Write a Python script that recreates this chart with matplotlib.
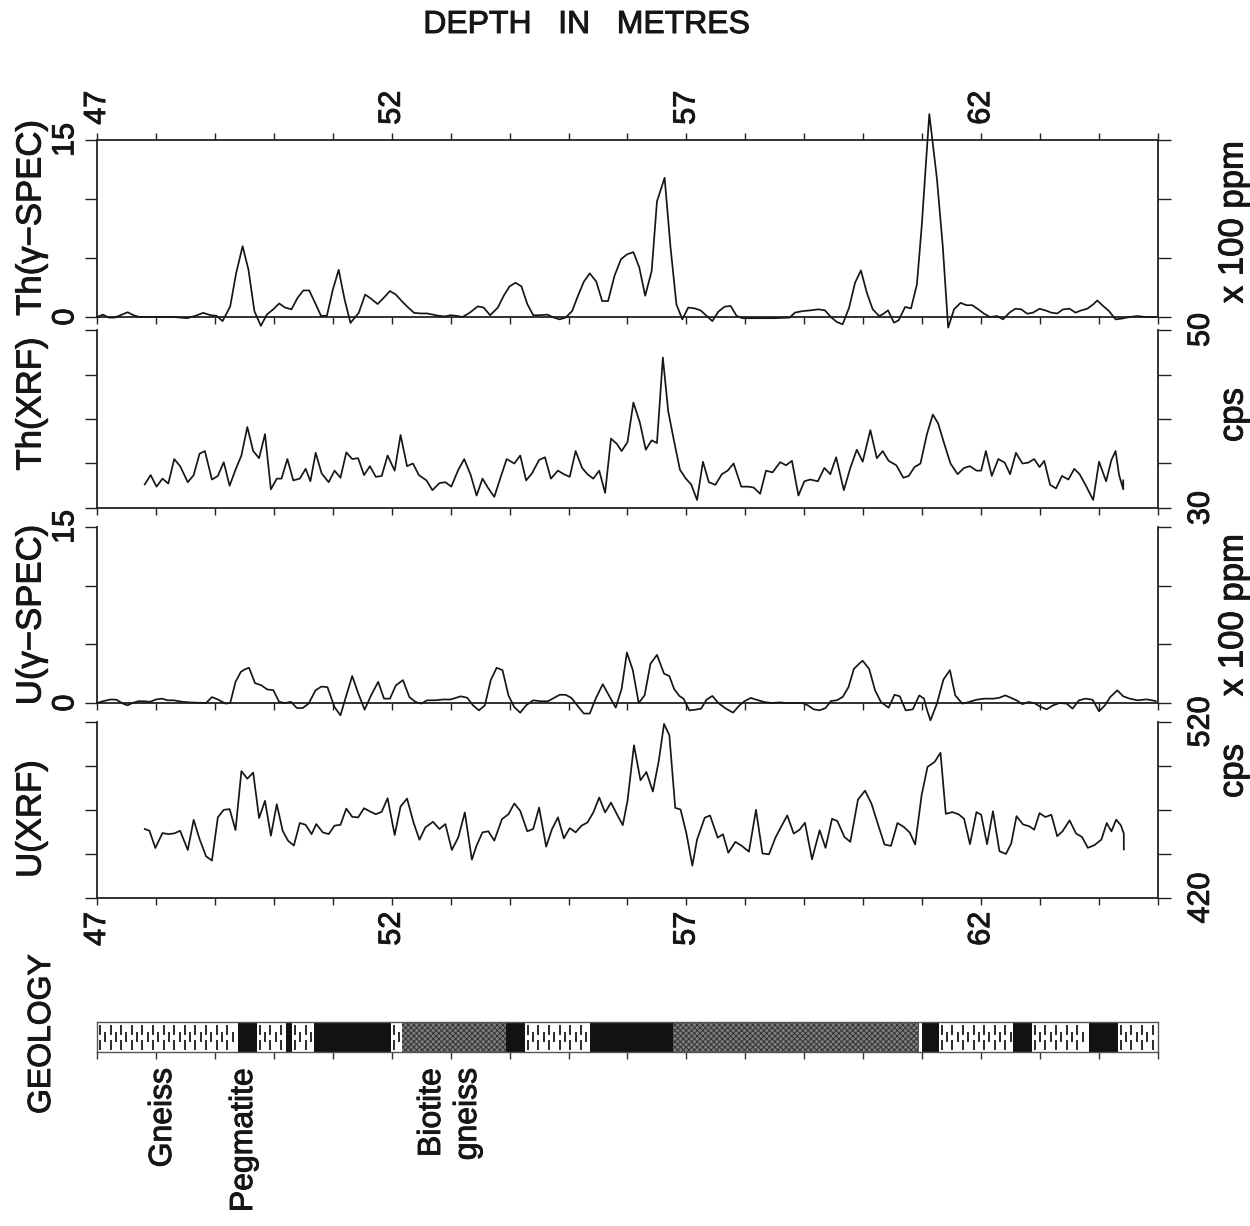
import matplotlib
matplotlib.use("Agg")
import matplotlib.pyplot as plt
import matplotlib.patheffects as pe
from matplotlib.patches import Rectangle
from matplotlib.text import Text
import numpy as np

plt.rcParams['font.family'] = ['Liberation Sans', 'DejaVu Sans']
plt.rcParams['hatch.linewidth'] = 0.7

# ---------------- data ----------------
depth_ticks = list(range(47, 66))
labeled_depths = [47, 52, 57, 62]

th_spec_depth = [47.0, 47.1, 47.2, 47.3, 47.42, 47.52, 47.62, 47.72, 48.0, 48.3, 48.53, 48.67, 48.8, 48.93,
                 49.03, 49.13, 49.26, 49.36, 49.47, 49.57, 49.67, 49.78, 49.88, 49.99, 50.09, 50.19, 50.3,
                 50.4, 50.5, 50.6, 50.7, 50.8, 50.9, 51.0, 51.1, 51.2, 51.3, 51.44, 51.55, 51.65, 51.76,
                 51.86, 51.97, 52.07, 52.17, 52.28, 52.38, 52.5, 52.6, 52.7, 52.8, 52.9, 53.0, 53.1, 53.2,
                 53.32, 53.46, 53.56, 53.67, 53.8, 53.9, 54.0, 54.1, 54.2, 54.3, 54.4, 54.5, 54.64, 54.75,
                 54.85, 54.95, 55.06, 55.16, 55.26, 55.36, 55.47, 55.57, 55.67, 55.78, 55.89, 55.99, 56.1,
                 56.2, 56.3, 56.41, 56.5, 56.63, 56.73, 56.83, 56.93, 57.03, 57.14, 57.24, 57.34, 57.44,
                 57.54, 57.65, 57.75, 57.85, 57.95, 58.2, 58.5, 58.75, 58.84, 58.97, 59.1, 59.24, 59.35,
                 59.45, 59.55, 59.65, 59.76, 59.86, 59.96, 60.06, 60.16, 60.27, 60.33, 60.42, 60.52, 60.6,
                 60.71, 60.81, 60.91, 60.99, 61.12, 61.25, 61.35, 61.44, 61.54, 61.65, 61.75, 61.85, 61.95,
                 62.05, 62.15, 62.27, 62.37, 62.48, 62.58, 62.68, 62.78, 62.88, 62.99, 63.09, 63.19, 63.29,
                 63.39, 63.5, 63.6, 63.7, 63.8, 63.9, 63.97, 64.07, 64.17, 64.28, 64.38, 64.52, 64.65,
                 64.79, 64.96]
th_spec_value = [0.0, 0.2, -0.05, -0.05, 0.2, 0.4, 0.15, 0.0, 0.0, 0.0, -0.1, 0.1, 0.35, 0.15,
                 0.1, -0.35, 0.9, 3.7, 6.0, 4.0, 0.5, -0.75, 0.2, 0.65, 1.15, 0.8, 0.65,
                 1.6, 2.25, 2.25, 1.2, 0.1, 0.1, 2.3, 4.0, 1.5, -0.5, 0.35, 1.9, 1.55, 1.1,
                 1.6, 2.2, 1.9, 1.35, 0.8, 0.35, 0.3, 0.3, 0.2, 0.1, 0.05, 0.15, 0.1, 0.0,
                 0.35, 0.9, 0.8, 0.15, 0.8, 1.8, 2.6, 2.9, 2.6, 1.1, 0.15, 0.15, 0.2, -0.05,
                 -0.2, -0.05, 0.5, 1.8, 3.0, 3.7, 3.0, 1.35, 1.35, 3.5, 4.9, 5.3, 5.5,
                 4.2, 1.8, 3.9, 9.8, 11.8, 5.9, 1.07, -0.2, 0.8, 0.73, 0.56, 0.1, -0.35,
                 0.45, 0.88, 0.93, 0.1, -0.1, -0.1, -0.1, -0.05, 0.37, 0.5, 0.56, 0.65, 0.56,
                 0.0, -0.42, -0.62, 0.8, 2.9, 3.95, 2.06, 0.65, 0.08, 0.23, 0.56, -0.48, -0.28,
                 0.85, 0.73, 2.77, 7.6, 17.2, 11.7, 5.9, -0.9, 0.65, 1.2, 1.0, 1.0, 0.65,
                 0.28, 0.0, 0.08, -0.2, 0.37, 0.7, 0.65, 0.28, 0.37, 0.7, 0.56, 0.37, 0.3,
                 0.65, 0.7, 0.37, 0.56, 0.7, 1.07, 1.4, 0.93, 0.5, -0.2, -0.14, 0.0, 0.08,
                 0.0, 0.0]

th_xrf_depth = [47.81, 47.91, 48.01, 48.11, 48.21, 48.31, 48.41, 48.54, 48.64, 48.74, 48.83, 48.95, 49.05,
                49.15, 49.25, 49.35, 49.45, 49.55, 49.65, 49.75, 49.85, 49.95, 50.05, 50.13, 50.23, 50.33,
                50.44, 50.54, 50.62, 50.71, 50.81, 50.93, 51.03, 51.13, 51.23, 51.33, 51.43, 51.53, 51.63,
                51.73, 51.83, 51.93, 52.05, 52.15, 52.26, 52.36, 52.46, 52.59, 52.69, 52.81, 52.91, 53.01,
                53.13, 53.23, 53.34, 53.44, 53.54, 53.64, 53.74, 53.85, 53.95, 54.08, 54.18, 54.28, 54.38,
                54.5, 54.6, 54.7, 54.82, 54.92, 55.02, 55.12, 55.23, 55.32, 55.42, 55.52, 55.62, 55.72,
                55.82, 55.9, 56.0, 56.1, 56.21, 56.31, 56.41, 56.5, 56.6, 56.69, 56.79, 56.89, 56.99,
                57.08, 57.18, 57.28, 57.38, 57.49, 57.6, 57.7, 57.8, 57.93, 58.05, 58.14, 58.25, 58.35,
                58.46, 58.59, 58.69, 58.79, 58.9, 59.0, 59.1, 59.23, 59.34, 59.44, 59.54, 59.67, 59.78,
                59.89, 59.99, 60.12, 60.23, 60.33, 60.43, 60.56, 60.68, 60.77, 60.87, 60.97, 61.08, 61.18,
                61.27, 61.37, 61.48, 61.6, 61.71, 61.81, 61.92, 62.0, 62.08, 62.18, 62.29, 62.4, 62.49,
                62.59, 62.7, 62.8, 62.9, 62.99, 63.07, 63.17, 63.27, 63.37, 63.48, 63.58, 63.67, 63.77,
                63.9, 64.0, 64.12, 64.21, 64.28, 64.34, 64.41, 64.41]
th_xrf_value = [32.65, 33.7, 32.4, 33.3, 32.75, 35.5, 34.7, 32.9, 33.7, 36.1, 36.4, 33.2, 33.6,
                35.15, 32.5, 34.3, 35.9, 39.1, 36.4, 35.6, 38.3, 32.1, 33.3, 33.3, 35.5, 33.1,
                33.3, 34.4, 33.0, 36.2, 33.9, 32.9, 34.2, 33.4, 36.25, 35.5, 35.6, 33.7, 34.7,
                33.5, 33.6, 35.9, 34.2, 38.2, 34.7, 35.0, 33.7, 33.1, 32.0, 32.8, 32.9, 32.4,
                34.3, 35.5, 33.7, 31.4, 33.3, 32.2, 31.25, 33.5, 35.5, 35.0, 35.9, 33.1, 33.9,
                35.4, 35.7, 33.3, 34.2, 33.8, 33.5, 36.4, 34.5, 33.8, 33.3, 34.2, 31.7, 37.8,
                37.2, 36.4, 37.4, 41.85, 39.6, 36.55, 37.6, 37.3, 46.9, 40.9, 37.5, 34.3, 33.3,
                32.65, 30.9, 35.2, 32.9, 32.6, 33.8, 34.2, 35.0, 32.4, 32.4, 32.3, 31.6, 34.2,
                34.0, 35.15, 34.8, 35.3, 31.4, 33.0, 33.2, 33.0, 34.5, 33.8, 35.7, 32.0, 34.5,
                36.55, 35.2, 38.75, 35.6, 36.4, 35.3, 34.8, 33.4, 33.6, 34.6, 35.0, 38.3, 40.5,
                39.5, 37.3, 35.0, 33.8, 34.5, 34.7, 34.2, 34.2, 36.4, 33.6, 35.5, 35.1, 33.8,
                36.2, 35.0, 35.1, 35.5, 34.6, 35.3, 32.6, 32.2, 33.6, 33.2, 34.4, 33.8, 32.6,
                30.9, 35.2, 33.0, 35.4, 36.4, 33.7, 32.1, 33.1]

u_spec_depth = [47.0, 47.1, 47.23, 47.33, 47.44, 47.52, 47.6, 47.7, 47.8, 47.9, 48.0, 48.1, 48.2, 48.3,
                48.45, 48.58, 48.85, 48.95, 49.05, 49.18, 49.26, 49.35, 49.44, 49.52, 49.58, 49.68, 49.79,
                49.89, 49.99, 50.09, 50.19, 50.29, 50.39, 50.49, 50.59, 50.71, 50.81, 50.91, 51.03, 51.13,
                51.23, 51.33, 51.43, 51.54, 51.65, 51.77, 51.87, 51.97, 52.07, 52.19, 52.3, 52.4, 52.5,
                52.6, 52.74, 52.87, 53.0, 53.17, 53.28, 53.38, 53.48, 53.58, 53.68, 53.78, 53.88, 53.98,
                54.08, 54.18, 54.28, 54.4, 54.52, 54.65, 54.75, 54.85, 54.95, 55.05, 55.17, 55.26, 55.36,
                55.46, 55.58, 55.7, 55.8, 55.9, 55.99, 56.09, 56.19, 56.29, 56.39, 56.5, 56.62, 56.71,
                56.79, 56.88, 56.95, 57.05, 57.15, 57.25, 57.34, 57.44, 57.54, 57.67, 57.79, 57.9, 57.98,
                58.09, 58.19, 58.32, 58.45, 58.58, 58.71, 58.84, 58.97, 59.06, 59.16, 59.26, 59.36, 59.45,
                59.55, 59.65, 59.75, 59.84, 59.93, 59.99, 60.1, 60.2, 60.3, 60.43, 60.53, 60.62, 60.72,
                60.84, 60.95, 61.03, 61.08, 61.14, 61.25, 61.36, 61.47, 61.56, 61.68, 61.79, 61.92, 62.05,
                62.21, 62.31, 62.41, 62.51, 62.6, 62.7, 62.8, 62.9, 62.99, 63.11, 63.22, 63.33, 63.45,
                63.55, 63.66, 63.77, 63.89, 64.0, 64.1, 64.19, 64.31, 64.41, 64.52, 64.65, 64.81, 64.96]
u_spec_value = [0.0, 0.15, 0.3, 0.28, -0.05, -0.2, 0.0, 0.15, 0.15, 0.1, 0.3, 0.37, 0.23, 0.23,
                0.1, 0.05, 0.0, 0.5, 0.3, -0.05, 0.0, 1.8, 2.65, 2.9, 3.0, 1.7, 1.5,
                1.15, 1.1, 0.1, 0.0, 0.1, -0.43, -0.43, -0.05, 1.1, 1.4, 1.35, -0.35, -1.05,
                0.65, 2.3, 0.85, -0.57, 0.65, 1.8, 0.37, 0.37, 1.5, 1.95, 0.5, 0.1, -0.05,
                0.23, 0.23, 0.3, 0.3, 0.57, 0.45, -0.2, -0.63, -0.2, 1.95, 3.0, 2.8, 0.65,
                -0.35, -0.83, -0.2, 0.23, 0.15, 0.15, 0.43, 0.7, 0.7, 0.43, -0.35, -0.9, -0.9,
                0.37, 1.6, 0.5, -0.4, 1.2, 4.3, 2.8, 0.0, 0.65, 3.35, 4.1, 2.5, 2.3,
                1.2, 0.6, 0.37, -0.63, -0.57, -0.48, 0.28, 0.6, 0.0, -0.48, -0.82, -0.2, 0.14,
                0.43, 0.28, 0.08, 0.0, 0.05, 0.0, 0.0, 0.0, -0.2, -0.54, -0.62, -0.43, 0.17,
                0.23, 0.51, 1.36, 2.9, 3.35, 3.6, 2.9, 1.08, 0.08, -0.4, 0.7, 0.57, -0.63,
                -0.54, 0.65, 0.37, -0.57, -1.48, -0.05, 2.0, 2.8, 0.65, -0.05, 0.08, 0.28, 0.37,
                0.37, 0.45, 0.65, 0.43, 0.23, -0.1, 0.08, 0.0, -0.28, -0.54, -0.2, 0.0, -0.05,
                -0.48, 0.23, 0.37, 0.28, -0.71, -0.2, 0.51, 1.08, 0.57, 0.37, 0.23, 0.31, 0.17]

u_xrf_depth = [47.81, 47.89, 47.99, 48.11, 48.21, 48.31, 48.41, 48.54, 48.64, 48.74, 48.85, 48.95, 49.05,
               49.15, 49.25, 49.35, 49.45, 49.55, 49.65, 49.75, 49.85, 49.95, 50.05, 50.15, 50.24, 50.34,
               50.44, 50.54, 50.64, 50.72, 50.83, 50.93, 51.03, 51.13, 51.23, 51.33, 51.43, 51.53, 51.63,
               51.73, 51.83, 51.93, 52.05, 52.15, 52.26, 52.37, 52.47, 52.57, 52.7, 52.81, 52.91, 53.02,
               53.13, 53.24, 53.36, 53.44, 53.54, 53.64, 53.74, 53.87, 53.98, 54.08, 54.18, 54.3, 54.4,
               54.5, 54.62, 54.72, 54.82, 54.92, 55.02, 55.12, 55.22, 55.32, 55.42, 55.52, 55.62, 55.72,
               55.82, 55.92, 56.0, 56.11, 56.22, 56.32, 56.43, 56.53, 56.62, 56.71, 56.81, 56.9, 57.0,
               57.1, 57.18, 57.31, 57.4, 57.53, 57.62, 57.71, 57.83, 57.94, 58.06, 58.18, 58.29, 58.4,
               58.51, 58.61, 58.71, 58.82, 58.92, 59.01, 59.13, 59.26, 59.36, 59.47, 59.56, 59.68, 59.78,
               59.91, 60.03, 60.14, 60.25, 60.36, 60.47, 60.58, 60.69, 60.79, 60.88, 60.99, 61.09, 61.21,
               61.31, 61.4, 61.51, 61.62, 61.71, 61.81, 61.92, 62.0, 62.1, 62.2, 62.31, 62.42, 62.51,
               62.6, 62.71, 62.82, 62.9, 62.99, 63.09, 63.19, 63.29, 63.38, 63.5, 63.61, 63.71, 63.81,
               63.92, 64.04, 64.13, 64.21, 64.29, 64.37, 64.42, 64.42]
u_xrf_value = [459.2, 458.2, 448.4, 456.9, 456.3, 456.7, 458.2, 447.3, 464.4, 453.5, 443.7, 441.3, 465.8,
               470.1, 470.5, 458.6, 492.1, 487.8, 491.2, 465.4, 475.2, 455.4, 473.3, 458.2, 452.6, 449.8,
               462.6, 461.6, 456.3, 462.0, 457.3, 456.3, 461.1, 461.6, 470.8, 466.1, 465.8, 471.0, 469.2,
               467.6, 469.0, 476.7, 455.8, 472.0, 476.5, 462.9, 453.1, 460.1, 463.3, 459.2, 462.0, 447.3,
               454.5, 468.6, 441.8, 449.8, 457.3, 457.9, 452.6, 464.8, 467.6, 473.7, 469.5, 457.9, 459.2,
               471.4, 449.2, 459.2, 465.8, 453.9, 459.7, 457.3, 461.1, 462.9, 468.6, 477.1, 468.6, 474.2,
               467.6, 461.4, 475.2, 506.8, 486.9, 491.6, 480.5, 497.8, 518.9, 512.5, 471.2, 470.3, 456.6,
               438.4, 453.2, 465.6, 466.9, 454.3, 456.2, 445.7, 451.9, 449.6, 446.3, 470.1, 445.3, 444.8,
               454.3, 460.7, 466.9, 456.6, 458.8, 462.8, 442.0, 458.5, 448.5, 465.0, 463.7, 454.7, 451.9,
               475.9, 481.0, 473.5, 461.8, 450.4, 449.6, 462.6, 460.3, 457.1, 450.4, 478.5, 494.5, 497.3,
               502.5, 467.8, 468.8, 467.5, 465.0, 450.6, 468.8, 467.3, 450.6, 469.3, 446.6, 445.0, 451.0,
               466.5, 461.8, 460.7, 458.8, 468.2, 466.0, 467.3, 455.1, 457.9, 464.1, 456.6, 454.7, 448.5,
               450.0, 453.2, 462.6, 457.9, 464.5, 461.3, 456.6, 447.6]

geo_bounds = [47.0, 49.39, 49.71, 50.2, 50.31, 50.68, 51.99, 52.18, 53.94, 54.26, 55.36, 56.78,
              60.95, 61.0, 61.28, 62.54, 62.86, 63.83, 64.32, 65.0]
geo_types = ['gneiss', 'pegmatite', 'gneiss', 'pegmatite', 'gneiss', 'pegmatite', 'gneiss',
             'biotite', 'pegmatite', 'gneiss', 'pegmatite', 'biotite', 'gap', 'pegmatite',
             'gneiss', 'pegmatite', 'gneiss', 'pegmatite', 'gneiss']

panel_labels = ['Th(\u03b3\u2212SPEC)', 'Th(XRF)', 'U(\u03b3\u2212SPEC)', 'U(XRF)']
panel_units = ['x 100 ppm', 'cps', 'x 100 ppm', 'cps']
panel_ylims = [(0, 15), (30, 50), (0, 15), (420, 520)]
panel_yticks = [[0, 5, 10, 15], [30, 35, 40, 45, 50], [0, 5, 10, 15], [420, 445, 470, 495, 520]]
geology_names = ['Gneiss', 'Pegmatite', 'Biotite', 'gneiss']

# ---------------- layout ----------------
W, H = 1250, 1226
fig = plt.figure(figsize=(W / 100, H / 100), dpi=100)


def fx(px):
    return px / W


def fy(py):
    return 1 - py / H


X0, X1 = 97, 1158
panel_px = [(140, 317), (330, 508), (527, 703), (722, 898)]
label_centers = [218, 404, 615, 819]
unit_centers = [222, 415, 615, 771]
label_side = ['left', 'right', 'left', 'right']

series = [(th_spec_depth, th_spec_value), (th_xrf_depth, th_xrf_value),
          (u_spec_depth, u_spec_value), (u_xrf_depth, u_xrf_value)]

TICK_FS = 22
LAB_FS = 25
INK = '#161616'

for i, (top, bot) in enumerate(panel_px):
    ax = fig.add_axes([fx(X0), fy(bot), fx(X1) - fx(X0), fy(top) - fy(bot)])
    d, v = series[i]
    ax.plot(d, v, color=INK, lw=1.25, clip_on=False, zorder=3)
    ax.set_xlim(47, 65)
    ax.set_ylim(*panel_ylims[i])
    for s in ax.spines.values():
        s.set_linewidth(1.3)
        s.set_color('#222222')
    ax.spines['top'].set_visible(i == 0)

    xl = [str(t) if t in labeled_depths else '' for t in depth_ticks]
    ax.set_xticks(depth_ticks, xl, rotation=90, fontsize=TICK_FS)
    ax.tick_params(axis='x', direction='out', length=5, width=1.0, color='#222222',
                   bottom=True, top=(i == 0), labelbottom=(i == 3), labeltop=(i == 0),
                   pad=6 if i == 0 else 5)

    yt = panel_yticks[i]
    yl = [str(yt[0])] + [''] * (len(yt) - 2) + [str(yt[-1])]
    ax.set_yticks(yt, yl, rotation=90, va='center', fontsize=TICK_FS)
    side = label_side[i]
    ax.tick_params(axis='y', direction='out', length=9, width=1.0, color='#222222',
                   left=True, right=True, labelleft=(side == 'left'),
                   labelright=(side == 'right'), pad=3 if side == 'left' else 11)

    fig.text(fx(31), fy(label_centers[i]), panel_labels[i], rotation=90,
             ha='center', va='center', fontsize=LAB_FS)
    fig.text(fx(1233), fy(unit_centers[i]), panel_units[i], rotation=90,
             ha='center', va='center', fontsize=LAB_FS)

# ---------------- geology bar ----------------
gax = fig.add_axes([fx(X0), fy(1052), fx(X1) - fx(X0), fy(1022) - fy(1052)])
gax.set_xlim(47, 65)
gax.set_ylim(0, 1)
gax.set_yticks([])
gax.set_xticks(depth_ticks, [''] * len(depth_ticks))
gax.tick_params(axis='x', direction='out', length=5, width=1.0, color='#333333')
for s in gax.spines.values():
    s.set_linewidth(1.0)
    s.set_color('#555555')

for a, b, kind in zip(geo_bounds[:-1], geo_bounds[1:], geo_types):
    if kind == 'pegmatite':
        gax.add_patch(Rectangle((a, 0), b - a, 1, facecolor='#121212', edgecolor='none', lw=0))
    elif kind == 'biotite':
        gax.add_patch(Rectangle((a, 0), b - a, 1, facecolor='#7e7e7e', edgecolor='#333333',
                                hatch='xxxxxx', lw=0))
    elif kind == 'gap':
        gax.add_patch(Rectangle((a, 0), b - a, 1, facecolor='white', edgecolor='none', lw=0))
    else:
        gax.add_patch(Rectangle((a, 0), b - a, 1, facecolor='white', edgecolor='none', lw=0))
        cols = np.arange(a + 0.05, b - 0.02, 0.09)
        even = cols[0::2]
        odd = cols[1::2]
        for yy in (0.25, 0.75):
            gax.plot(even, np.full(len(even), yy), ls='none', marker='|', ms=7, mew=1.3,
                     color='#1a1a1a')
        gax.plot(odd, np.full(len(odd), 0.5), ls='none', marker='|', ms=7, mew=1.3,
                 color='#1a1a1a')

# ---------------- texts ----------------
fig.text(fx(587), fy(25), 'DEPTH   IN   METRES', ha='center', va='center', fontsize=23)
fig.text(fx(42), fy(1034), 'GEOLOGY', rotation=90, ha='center', va='center', fontsize=23)
name_x = [163, 244, 432, 468]
for nm, xp in zip(geology_names, name_x):
    fig.text(fx(xp), fy(1068), nm, rotation=90, ha='center', va='top', fontsize=23)

# slightly heavier strokes on all text, like the printed original
for t in fig.findobj(Text):
    t.set_color(INK)
    t.set_path_effects([pe.withStroke(linewidth=0.7, foreground=INK)])

fig.savefig('out.png', dpi=100, facecolor='white')
